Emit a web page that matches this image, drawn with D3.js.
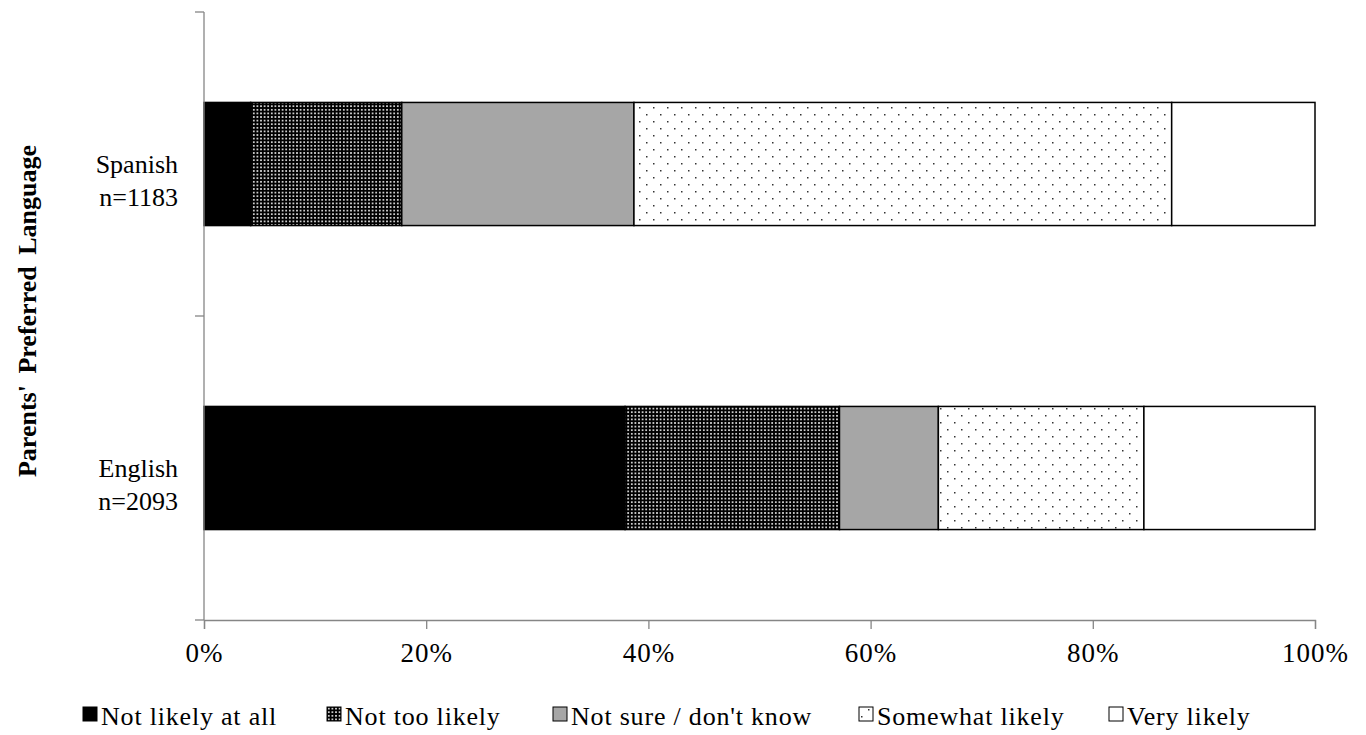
<!DOCTYPE html>
<html>

<head>
    <meta charset="UTF-8">
    <style>
        body { margin: 0; background: #fff; }
        svg text { font-family: "Liberation Serif", "Times New Roman", serif; fill: #000; }
    </style>
    <title>Parents' Preferred Language</title>
</head>

<body>
    <svg></svg>
    <script src="https://d3js.org/d3.v7.min.js"></script>

    <script>
        let width = 1366, height = 735;

        // data (percent of parents per answer)
        const groups = ["Spanish", "English"];
        const groupN = ["n=1183", "n=2093"];
        const answers = ["Not likely at all", "Not too likely", "Not sure / don't know", "Somewhat likely", "Very likely"];
        const spanishValues = [4.2, 13.6, 20.9, 48.4, 12.9];
        const englishValues = [37.9, 19.3, 8.9, 18.5, 15.4];
        const xTicks = [0, 20, 40, 60, 80, 100];
        const legendX = [83, 327, 553, 859, 1109];

        let svg = d3.select("svg")
            .attr("width", width)
            .attr("height", height);

        // fill patterns
        let defs = svg.append("defs");
        let dense = defs.append("pattern")
            .attr("id", "dense").attr("patternUnits", "userSpaceOnUse")
            .attr("width", 3.6).attr("height", 3.6);
        dense.append("rect").attr("width", 3.6).attr("height", 3.6).attr("fill", "#000");
        dense.append("rect").attr("x", 1).attr("y", 1).attr("width", 1.6).attr("height", 1.6).attr("fill", "#fff");

        let sparse = defs.append("pattern")
            .attr("id", "sparse").attr("patternUnits", "userSpaceOnUse")
            .attr("width", 14).attr("height", 14);
        sparse.append("rect").attr("width", 14).attr("height", 14).attr("fill", "#fff");
        sparse.append("rect").attr("x", 2).attr("y", 2).attr("width", 1.5).attr("height", 1.5).attr("fill", "#333");
        sparse.append("rect").attr("x", 9).attr("y", 9).attr("width", 1.5).attr("height", 1.5).attr("fill", "#333");

        const fills = ["#000", "url(#dense)", "#a6a6a6", "url(#sparse)", "#fff"];

        // scales
        const x = d3.scaleLinear().domain([0, 100]).range([204, 1315]);
        const y = d3.scaleBand().domain(groups).range([12, 620])
            .paddingInner(0.595).paddingOuter(0.2975);

        // stacked rows
        const rows = groups.map((g, i) => {
            const vals = i === 0 ? spanishValues : englishValues;
            let acc = 0;
            return vals.map((v, j) => {
                const seg = { group: g, key: answers[j], x0: acc, x1: acc + v, fill: fills[j] };
                acc += v;
                return seg;
            });
        }).flat();

        svg.append("g")
            .selectAll("rect")
            .data(rows)
            .enter()
            .append("rect")
            .attr("x", d => x(d.x0))
            .attr("y", d => y(d.group))
            .attr("width", d => x(d.x1) - x(d.x0))
            .attr("height", y.bandwidth())
            .attr("fill", d => d.fill)
            .attr("stroke", "#000")
            .attr("stroke-width", 1.5);

        // x axis
        let xAxis = svg.append("g")
            .attr("transform", "translate(0,620)")
            .call(d3.axisBottom(x).tickValues(xTicks).tickSize(9).tickPadding(14)
                .tickFormat(d => d + "%"));
        xAxis.select(".domain").attr("stroke", "#868686").attr("stroke-width", 1.3);
        xAxis.selectAll(".tick line").attr("stroke", "#868686").attr("stroke-width", 1.3);
        xAxis.selectAll("text")
            .style("font-size", "27px")
            .style("letter-spacing", "1px")
            .style("font-family", "Liberation Serif");

        // y axis (ticks at category boundaries)
        const yEdges = [12, y("Spanish") + y.bandwidth() + y.step() * y.paddingInner() / 2, 620];
        let yAxis = svg.append("g");
        yAxis.append("line")
            .attr("x1", 204).attr("x2", 204).attr("y1", 12).attr("y2", 620)
            .attr("stroke", "#868686").attr("stroke-width", 1.3);
        yAxis.selectAll(".ytick")
            .data(yEdges)
            .enter()
            .append("line")
            .attr("x1", 195).attr("x2", 204)
            .attr("y1", d => d).attr("y2", d => d)
            .attr("stroke", "#868686").attr("stroke-width", 1.3);

        // category labels
        let cat = svg.append("g")
            .selectAll("text")
            .data(groups)
            .enter()
            .append("text")
            .attr("text-anchor", "end")
            .attr("x", 178)
            .attr("y", d => y(d) + y.bandwidth() / 2)
            .style("font-size", "26px");
        cat.append("tspan").attr("x", 178).attr("dy", 8.5).text(d => d);
        cat.append("tspan").attr("x", 178).attr("dy", 33).text((d, i) => groupN[i]);

        // y title
        svg.append("text")
            .attr("transform", "translate(36,311) rotate(-90)")
            .attr("text-anchor", "middle")
            .style("font-size", "26px")
            .style("font-weight", "bold")
            .style("word-spacing", "5px")
            .text("Parents' Preferred Language");

        // legend
        let legend = svg.append("g")
            .selectAll("g")
            .data(answers)
            .enter()
            .append("g")
            .attr("transform", (d, i) => "translate(" + legendX[i] + ",714)");
        legend.append("rect")
            .attr("x", 0).attr("y", -7)
            .attr("width", 14).attr("height", 14)
            .attr("fill", (d, i) => fills[i])
            .attr("stroke", "#000").attr("stroke-width", 1);
        legend.append("text")
            .attr("x", 18).attr("y", 11)
            .style("font-size", "26px")
            .style("letter-spacing", "0.8px")
            .text(d => d);
    </script>
</body>

</html>
